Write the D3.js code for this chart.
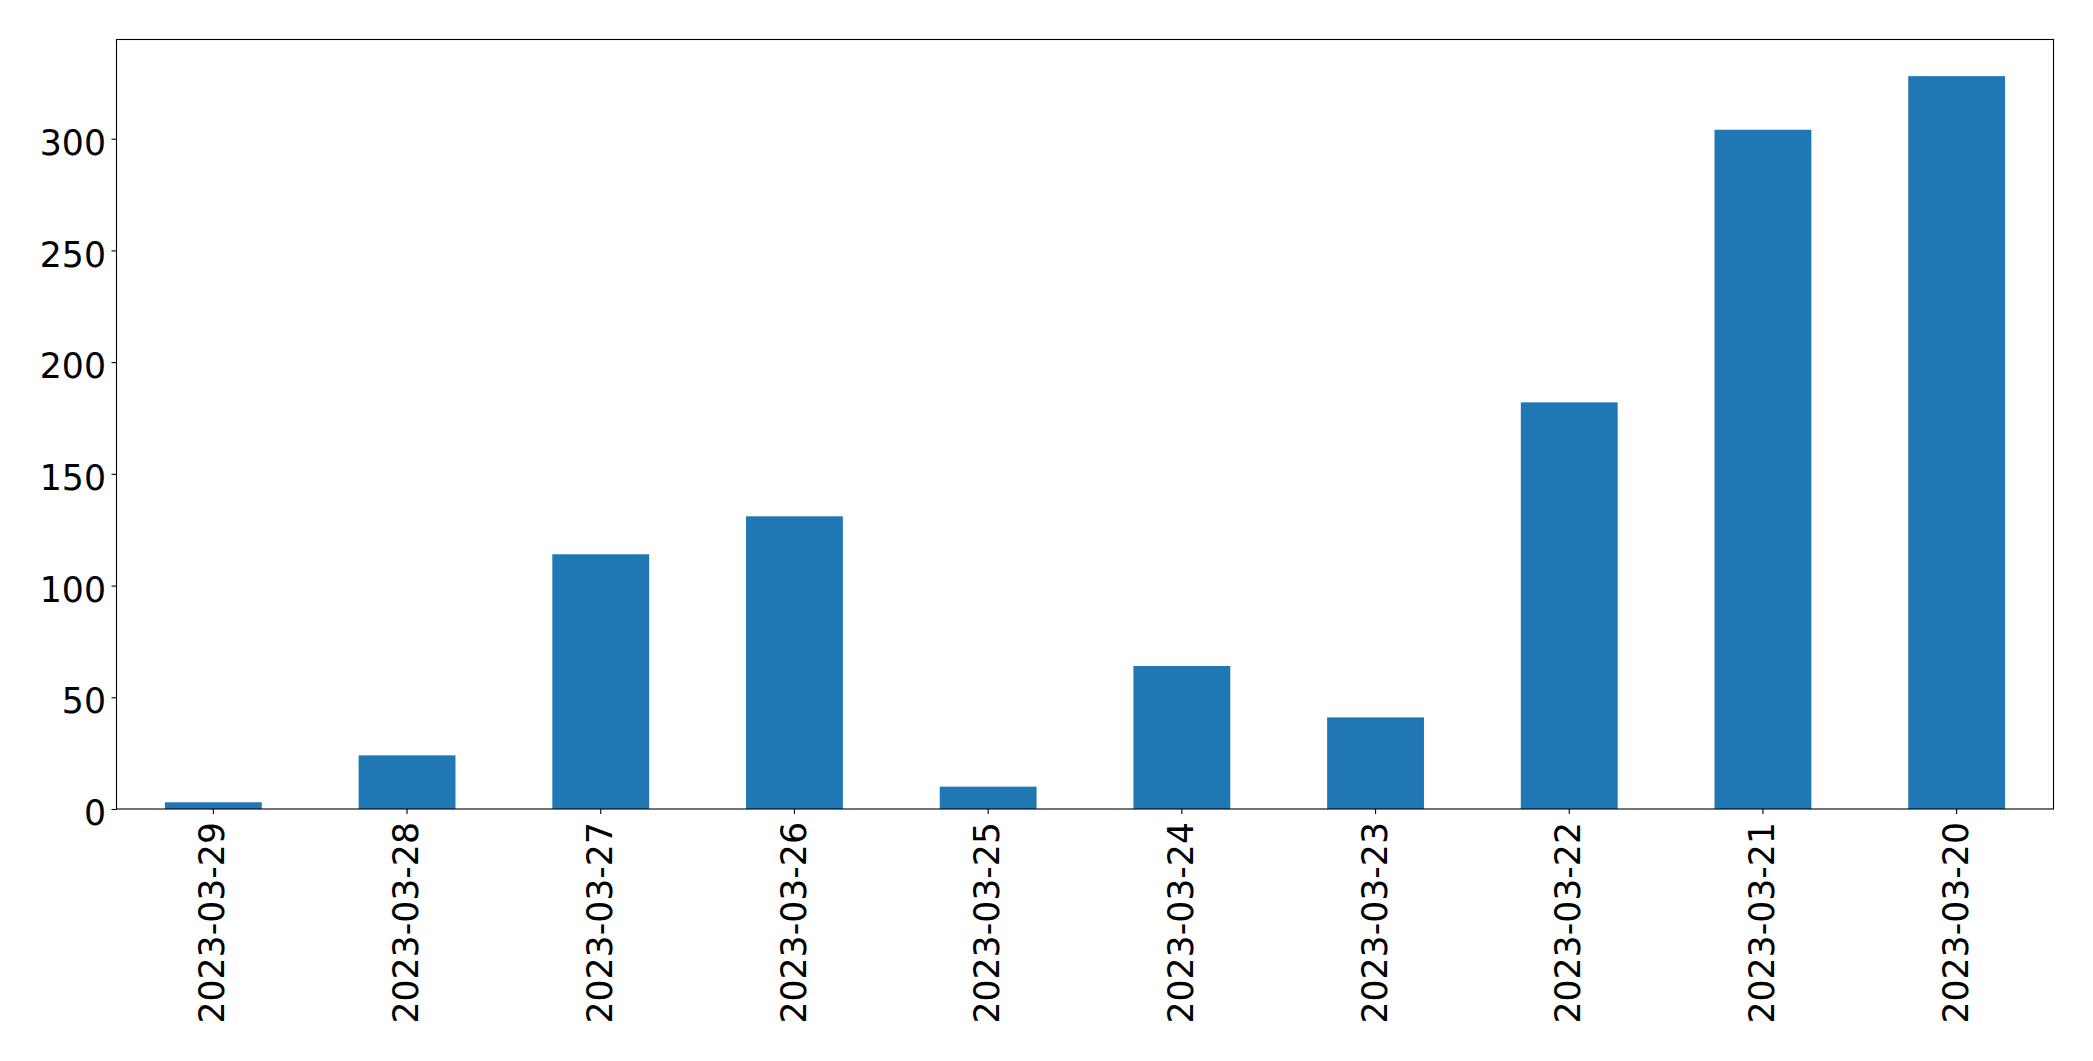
<!DOCTYPE html>
<html>
<head>
<meta charset="utf-8">
<script src="https://cdn.jsdelivr.net/npm/d3@7"></script>
<style>
  html, body { margin: 0; padding: 0; background: #fff; }
  svg { display: block; }
</style>
</head>
<body>
<svg id="chart" width="2093" height="1061"></svg>
<script>
const categories = ["2023-03-29", "2023-03-28", "2023-03-27", "2023-03-26", "2023-03-25",
                    "2023-03-24", "2023-03-23", "2023-03-22", "2023-03-21", "2023-03-20"];
const values = [3, 24, 114, 131, 10, 64, 41, 182, 304, 328];
const yTicks = [0, 50, 100, 150, 200, 250, 300];

const W = 2093, H = 1061;
const margin = { left: 116.5, right: W - 2053.5, top: 39.5, bottom: H - 809 };
const svg = d3.select("#chart");
const font = "'DejaVu Sans', sans-serif";

const x = d3.scaleBand()
  .domain(categories)
  .range([margin.left, W - margin.right])
  .paddingInner(0.5)
  .paddingOuter(0.25);

const y = d3.scaleLinear()
  .domain([0, d3.max(values) * 1.05])
  .range([H - margin.bottom, margin.top]);

svg.append("g")
  .selectAll("rect")
  .data(values)
  .join("rect")
  .attr("x", (d, i) => x(categories[i]))
  .attr("width", x.bandwidth())
  .attr("y", d => y(d))
  .attr("height", d => y(0) - y(d))
  .attr("fill", "#1f77b4");

// Frame
svg.append("rect")
  .attr("x", margin.left)
  .attr("y", margin.top)
  .attr("width", W - margin.right - margin.left)
  .attr("height", H - margin.bottom - margin.top)
  .attr("fill", "none")
  .attr("stroke", "#000")
  .attr("stroke-width", 1.1);

// Y axis
const yAxis = svg.append("g")
  .attr("transform", `translate(${margin.left},0)`)
  .call(d3.axisLeft(y).tickValues(yTicks).tickSize(5).tickPadding(5.5).tickFormat(d3.format("d")));
yAxis.select(".domain").remove();
yAxis.selectAll("line").attr("stroke", "#000").attr("stroke-width", 1.1);
yAxis.selectAll("text")
  .attr("font-family", font)
  .attr("font-size", 34.7)
  .attr("fill", "#000")
  .attr("dy", "0.45em");

// X axis
const xAxis = svg.append("g")
  .attr("transform", `translate(0,${H - margin.bottom})`)
  .call(d3.axisBottom(x).tickSize(5).tickPadding(11));
xAxis.select(".domain").remove();
xAxis.selectAll("line").attr("stroke", "#000").attr("stroke-width", 1.1);
xAxis.selectAll("text")
  .attr("font-family", font)
  .attr("font-size", 34.7)
  .attr("fill", "#000")
  .attr("transform", "rotate(-90)")
  .attr("text-anchor", "end")
  .attr("dy", "0.32em")
  .attr("x", -13)
  .attr("y", 0);
</script>
</body>
</html>
